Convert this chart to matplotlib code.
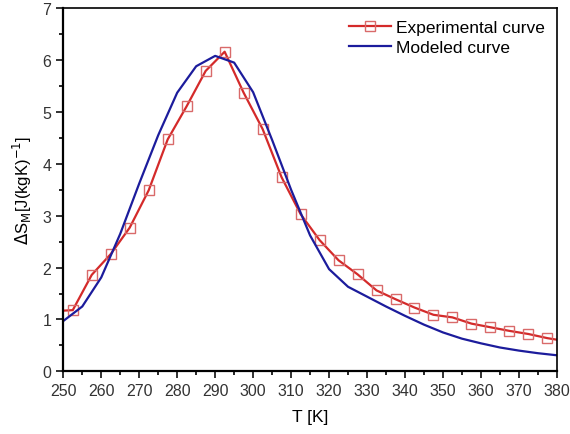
import numpy as np
import matplotlib
matplotlib.use('Agg')
from matplotlib import pyplot as plt
from matplotlib.ticker import MultipleLocator

plt.rcParams['font.family'] = ['Liberation Sans', 'DejaVu Sans']

##################
# data
##################
t_exp = [250, 252.5, 257.5, 262.5, 267.5, 272.5, 277.5, 282.5, 287.5, 292.5,
         297.5, 302.5, 307.5, 312.5, 317.5, 322.5, 327.5, 332.5, 337.5, 342.5,
         347.5, 352.5, 357.5, 362.5, 367.5, 372.5, 377.5, 380]
ds_exp = [1.17, 1.18, 1.86, 2.26, 2.77, 3.49, 4.47, 5.11, 5.79, 6.16,
          5.37, 4.67, 3.74, 3.03, 2.53, 2.14, 1.87, 1.56, 1.39, 1.23,
          1.09, 1.04, 0.92, 0.85, 0.78, 0.72, 0.64, 0.61]

t_mod = [250, 255, 260, 265, 270, 275, 280, 285, 290, 295, 300, 305, 310,
         315, 320, 325, 330, 335, 340, 345, 350, 355, 360, 365, 370, 375, 380]
ds_mod = [0.97, 1.25, 1.81, 2.65, 3.62, 4.55, 5.37, 5.88, 6.08, 5.95, 5.38,
          4.46, 3.50, 2.62, 1.97, 1.63, 1.44, 1.25, 1.07, 0.90, 0.75, 0.63,
          0.54, 0.46, 0.40, 0.35, 0.31]

##################
# plot
##################
fig = plt.figure(figsize=(5.7, 4.35), dpi=100)
ax = fig.add_axes([0.111, 0.144, 0.866, 0.835])

ax.plot(t_exp, ds_exp, color='#d42a2a', lw=1.6, marker='s', markersize=6.5,
        markerfacecolor='none', markeredgecolor='#d96a6a', markeredgewidth=1.0,
        markevery=slice(1, -1), label='Experimental curve')
ax.plot(t_mod, ds_mod, color='#1c1c9c', lw=1.6, label='Modeled curve')

ax.set_xlim(250, 380)
ax.set_ylim(0, 7)
ax.xaxis.set_major_locator(MultipleLocator(10))
ax.xaxis.set_minor_locator(MultipleLocator(5))
ax.yaxis.set_major_locator(MultipleLocator(1))
ax.yaxis.set_minor_locator(MultipleLocator(0.5))
ax.tick_params(which='major', direction='out', length=5, width=1.3, labelsize=11.5,
               colors='#222222', labelcolor='#333333')
ax.tick_params(which='minor', direction='out', length=3, width=1.2)
for s in ['left', 'bottom']:
    ax.spines[s].set_linewidth(1.6)
for s in ['top', 'right']:
    ax.spines[s].set_linewidth(1.2)

ax.set_xlabel('T [K]', fontsize=12.5, labelpad=8)
ax.set_ylabel(r'$\Delta$S$_\mathrm{M}$[J(kgK)$^{-1}$]', fontsize=12, labelpad=6)

ax.legend(loc='upper right', frameon=False, fontsize=12.5, handlelength=2.4,
          handletextpad=0.3, borderaxespad=0.3, labelspacing=0.25)

fig.savefig('out.png', dpi=100)
